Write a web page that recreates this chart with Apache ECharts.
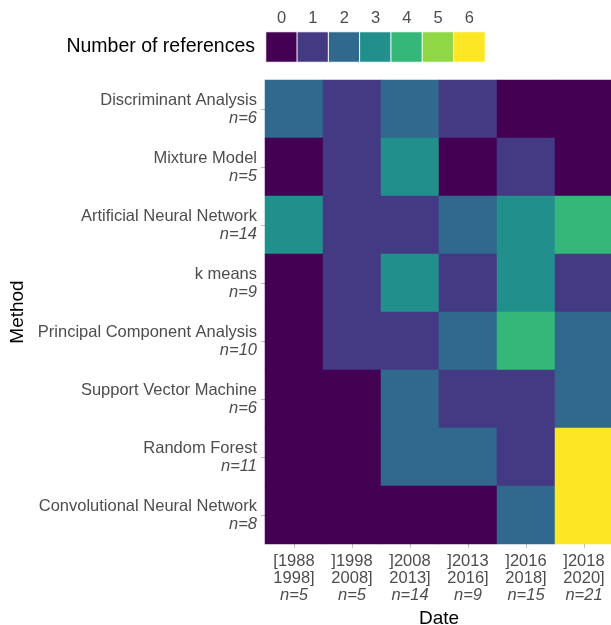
<!DOCTYPE html>
<html><head><meta charset="utf-8">
<script src="https://cdn.jsdelivr.net/npm/echarts@6/dist/echarts.min.js"></script>
<style>html,body{margin:0;padding:0;background:#fff;overflow:hidden}#c{width:611px;height:625px}</style>
</head><body><div id="c"></div>
<script>
const methods = ["Discriminant Analysis","Mixture Model","Artificial Neural Network","k means","Principal Component Analysis","Support Vector Machine","Random Forest","Convolutional Neural Network"];
const methodN = [6,5,14,9,10,6,11,8];
const periods = ["[1988\n1998]","]1998\n2008]","]2008\n2013]","]2013\n2016]","]2016\n2018]","]2018\n2020]"];
const periodN = [5,5,14,9,15,21];
// counts[row][col]
const counts = [
  [2,1,2,1,0,0],
  [0,1,3,0,1,0],
  [3,1,1,2,3,4],
  [0,1,3,1,3,1],
  [0,1,1,2,4,2],
  [0,0,2,1,1,2],
  [0,0,2,2,1,6],
  [0,0,0,0,2,6]
];
const levels = [0,1,2,3,4,5,6];
const palette = ["#440154","#443A83","#31688E","#21908C","#35B779","#8FD744","#FDE725"];

const yLabels = methods.map((m,i)=>m+"\n{i|n="+methodN[i]+"}");
const xLabels = periods.map((p,i)=>p+"\n{i|n="+periodN[i]+"}");
const cells = [];
counts.forEach((row,r)=>row.forEach((v,c)=>cells.push([c,r,v])));
const legendCells = levels.map((v,i)=>[i,0,v]);

const FONT = "Liberation Sans, Arial, Helvetica, sans-serif";
const FS = 16.5;
const chart = echarts.init(document.getElementById('c'));
chart.setOption({
  animation:false,
  textStyle:{fontFamily:FONT},
  visualMap:{type:'piecewise',show:false,dimension:2,
    pieces:levels.map((v,i)=>({value:v,color:palette[i]}))},
  grid:[
    {left:265,width:348,top:80,height:464,containLabel:false,outerBoundsMode:'none'},
    {left:266,width:219,top:32,height:30,containLabel:false,outerBoundsMode:'none'}
  ],
  xAxis:[
    {type:'category',gridIndex:0,data:xLabels,position:'bottom',
      axisLine:{show:false},splitLine:{show:false},
      axisTick:{show:true,length:4,lineStyle:{color:'#bbbbbb'},alignWithLabel:true},
      axisLabel:{color:'#4d4d4d',fontSize:FS,lineHeight:17,margin:9,interval:0,fontFamily:FONT,
        rich:{i:{fontStyle:'italic',color:'#4d4d4d',fontSize:FS,lineHeight:17,fontFamily:FONT}}},
      name:'Date',nameLocation:'middle',nameGap:64,
      nameTextStyle:{color:'#000',fontSize:19,fontFamily:FONT}},
    {type:'category',gridIndex:1,data:levels.map(String),position:'top',
      axisLine:{show:false},axisTick:{show:false},splitLine:{show:false},
      axisLabel:{color:'#4d4d4d',fontSize:FS,margin:5,fontFamily:FONT}}
  ],
  yAxis:[
    {type:'category',gridIndex:0,data:yLabels,inverse:true,
      axisLine:{show:false},splitLine:{show:false},
      axisTick:{show:true,length:4,lineStyle:{color:'#bbbbbb'},alignWithLabel:true},
      axisLabel:{color:'#4d4d4d',fontSize:FS,lineHeight:18,margin:8,interval:0,align:'right',fontFamily:FONT,
        rich:{i:{fontStyle:'italic',color:'#4d4d4d',fontSize:FS,lineHeight:18,fontFamily:FONT}}},
      name:'Method',nameLocation:'middle',nameGap:238,nameRotate:90,
      nameTextStyle:{color:'#000',fontSize:19,fontFamily:FONT}},
    {type:'category',gridIndex:1,data:['Number of references'],
      axisLine:{show:false},axisTick:{show:false},splitLine:{show:false},
      axisLabel:{color:'#000',fontSize:19.5,margin:11,fontFamily:FONT}}
  ],
  series:[
    {type:'heatmap',xAxisIndex:0,yAxisIndex:0,data:cells,
      itemStyle:{borderWidth:0},emphasis:{disabled:true}},
    {type:'heatmap',xAxisIndex:1,yAxisIndex:1,data:legendCells,
      itemStyle:{borderColor:'#fff',borderWidth:1},emphasis:{disabled:true}}
  ]
});
</script></body></html>
